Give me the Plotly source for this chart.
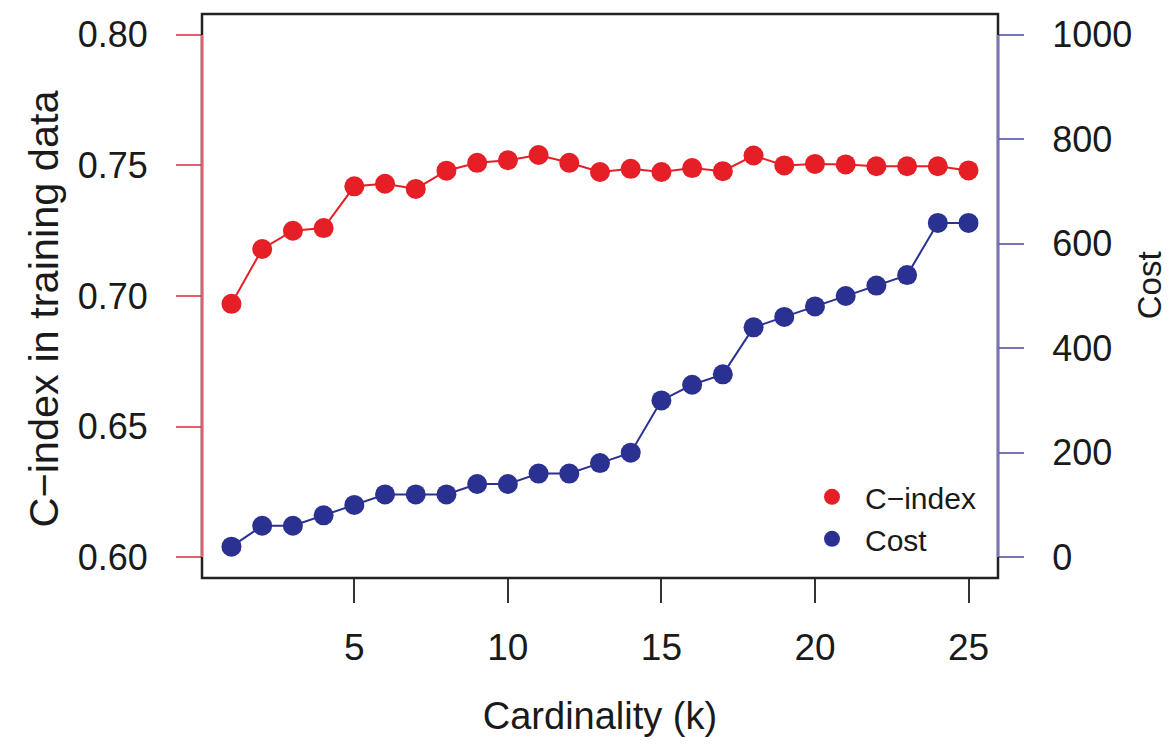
import plotly.graph_objects as go

# ---- data ----
k = list(range(1, 26))
c_index = [0.697, 0.718, 0.725, 0.726, 0.742, 0.743, 0.741, 0.748, 0.751, 0.752,
           0.754, 0.751, 0.7475, 0.7487, 0.7475, 0.749, 0.7478, 0.7538, 0.750, 0.7506,
           0.7504, 0.7497, 0.7497, 0.7497, 0.7481]
cost = [20, 60, 60, 80, 100, 120, 120, 120, 140, 140,
        160, 160, 180, 200, 300, 330, 350, 440, 460, 480,
        500, 520, 540, 640, 640]
x_ticks = [5, 10, 15, 20, 25]
y_left_ticks = [0.60, 0.65, 0.70, 0.75, 0.80]
y_left_text = ["0.60", "0.65", "0.70", "0.75", "0.80"]
y_right_ticks = [0, 200, 400, 600, 800, 1000]

RED = "#e61e26"
BLUE = "#2b3190"
RED_AXIS = "#e06070"
BLUE_AXIS = "#7575b8"
FONT = "Liberation Sans, Arial, Helvetica, sans-serif"
TXT = "#1a1a1a"

fig = go.Figure()
fig.add_trace(go.Scatter(x=k, y=c_index, mode="lines+markers", yaxis="y",
                         line=dict(color=RED, width=2),
                         marker=dict(color=RED, size=20), showlegend=False))
fig.add_trace(go.Scatter(x=k, y=cost, mode="lines+markers", yaxis="y2",
                         line=dict(color=BLUE, width=2),
                         marker=dict(color=BLUE, size=20), showlegend=False))
# legend entries (markers only)
fig.add_trace(go.Scatter(x=[None], y=[None], mode="markers", name="C\u2212index",
                         marker=dict(color=RED, size=20)))
fig.add_trace(go.Scatter(x=[None], y=[None], mode="markers", name="Cost",
                         marker=dict(color=BLUE, size=20)))

fig.update_layout(
    width=1171, height=747,
    margin=dict(l=202, r=173, t=14, b=169),
    paper_bgcolor="white", plot_bgcolor="white",
    font=dict(family=FONT, color=TXT, size=36),
    xaxis=dict(range=[0.04, 25.96], tickvals=x_ticks, ticks="outside", ticklen=24,
               tickwidth=2, tickcolor="#333333", showline=False, showgrid=False,
               zeroline=False, tickfont=dict(size=37), ticklabelstandoff=13,
               automargin=False,
               title=dict(text="Cardinality (k)", font=dict(size=38), standoff=34)),
    yaxis=dict(range=[0.592, 0.808], tickvals=y_left_ticks, ticktext=y_left_text,
               ticks="outside", ticklen=25, tickwidth=2, tickcolor=RED_AXIS,
               showline=False, showgrid=False, zeroline=False, automargin=False,
               tickfont=dict(size=36), ticklabelstandoff=21),
    yaxis2=dict(range=[-40, 1040], tickvals=y_right_ticks, overlaying="y", side="right",
                ticks="outside", ticklen=25, tickwidth=2, tickcolor=BLUE_AXIS,
                showline=False, showgrid=False, zeroline=False, automargin=False,
                tickfont=dict(size=36), ticklabelstandoff=21),
    legend=dict(x=0.750, y=0.190, xanchor="left", yanchor="top",
                bgcolor="rgba(0,0,0,0)", font=dict(size=30), tracegroupgap=0,
                itemsizing="trace", itemwidth=56),
    annotations=[
        dict(text="C\u2212index in training data", xref="paper", yref="paper",
             x=-0.199, y=0.477, xanchor="center", yanchor="middle", textangle=-90,
             showarrow=False, font=dict(size=41.5, color=TXT, family=FONT)),
        dict(text="Cost", xref="paper", yref="paper",
             x=1.19, y=0.5195, xanchor="center", yanchor="middle", textangle=-90,
             showarrow=False, font=dict(size=33, color=TXT, family=FONT)),
    ],
    shapes=[
        dict(type="rect", xref="paper", yref="paper", x0=0, x1=1, y0=0, y1=1,
             line=dict(color="#222222", width=2.5), layer="above"),
        dict(type="line", xref="paper", yref="y", x0=0, x1=0, y0=0.60, y1=0.80,
             line=dict(color=RED_AXIS, width=2.5), layer="above"),
        dict(type="line", xref="paper", yref="y2", x0=1, x1=1, y0=0, y1=1000,
             line=dict(color=BLUE_AXIS, width=2.5), layer="above"),
    ],
)

fig.write_html("out.html")
